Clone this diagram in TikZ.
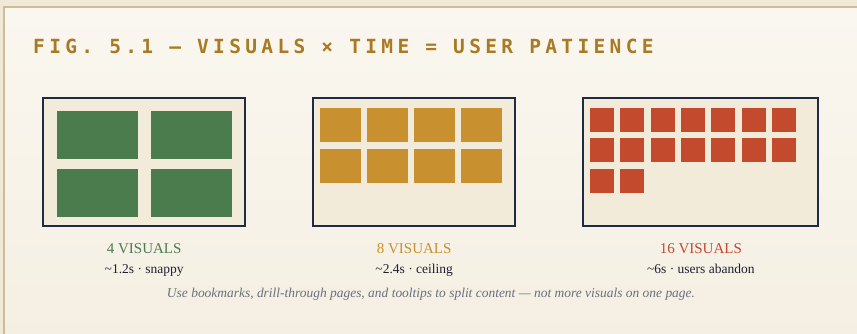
\documentclass[tikz,border=0pt]{standalone}
\usepackage{fontspec}
\setmainfont{Liberation Serif}
\newfontfamily\titlefont[LetterSpace=22.3]{DejaVu Sans Mono}
\definecolor{pagebg}{HTML}{F1E9D8}
\definecolor{cardtop}{HTML}{FAF7F0}
\definecolor{cardbot}{HTML}{F5EFE2}
\definecolor{rule}{HTML}{CBBD94}
\definecolor{ochre}{HTML}{A97A22}
\definecolor{navy}{HTML}{1F2A44}
\definecolor{panelfill}{HTML}{F3EBDA}
\definecolor{leaf}{HTML}{4A7C4E}
\definecolor{amber}{HTML}{C8902F}
\definecolor{rust}{HTML}{C44A2E}
\definecolor{ink}{HTML}{1E2030}
\definecolor{slate}{HTML}{6A6E7E}
\tikzset{
  panel/.style={draw=navy, line width=2pt, fill=panelfill, inner sep=0pt,
    minimum height=127.4pt},
  shade box/.style={fill=navy!60, opacity=0.35, inner sep=0pt, minimum height=127.4pt},
  count/.style={anchor=base, inner sep=0pt, font=\fontsize{15}{18}\selectfont},
  timing/.style={anchor=base, inner sep=0pt, text=ink, font=\fontsize{13.5}{16}\selectfont},
  note/.style={anchor=base, inner sep=0pt, text=slate, font=\fontsize{13.45}{16}\selectfont\itshape},
}
\begin{document}
\begin{tikzpicture}[x=1pt, y=-1pt]
  % page and card
  \fill[pagebg] (0,0) rectangle (857,334);
  \useasboundingbox (0,0) rectangle (857,334);
  \shade[top color=cardtop, bottom color=cardbot] (4,7) rectangle (870,345);
  \draw[rule, line width=2pt] (4,345) -- (4,7) -- (870,7);

  % heading
  \node[anchor=base west, inner sep=0pt, text=ochre,
        font=\titlefont\bfseries\fontsize{19.5}{22}\selectfont] (title) at (33,53.5)
    {FIG. 5.1 — VISUALS × TIME = USER PATIENCE};

  % panels with soft shadow
  \node[shade box, minimum width=201.7pt] at (145.2,163) {};
  \node[shade box, minimum width=201.7pt] at (415.2,163) {};
  \node[shade box, minimum width=235pt]   at (701.8,163) {};
  \node[panel, minimum width=201.7pt] (p1) at (144.2,162) {};
  \node[panel, minimum width=201.7pt] (p2) at (414.2,162) {};
  \node[panel, minimum width=235pt]   (p3) at (700.8,162) {};

  % four visuals
  \foreach \x in {57,151}
    \foreach \y in {111,169}
      \fill[leaf] (\x,\y) rectangle ++(81,48);

  % eight visuals
  \foreach \x in {320,367,414,461}
    \foreach \y in {108,149}
      \fill[amber] (\x,\y) rectangle ++(41,34);

  % sixteen visuals
  \foreach \i in {0,...,6}
    \foreach \y in {108,138.3}
      \fill[rust] (590+30.33*\i,\y) rectangle ++(24,24);
  \foreach \i in {0,1}
    \fill[rust] (590+30.33*\i,169) rectangle ++(24,24);

  % captions
  \node[count, text=leaf]  (c1) at (144.2,253) {4 VISUALS};
  \node[count, text=amber] (c2) at (414.2,253) {8 VISUALS};
  \node[count, text=rust]  (c3) at (700.8,253) {16 VISUALS};
  \node[timing] (t1) at (144.2,273) {\char"007E 1.2s · snappy};
  \node[timing] (t2) at (414.2,273) {\char"007E 2.4s · ceiling};
  \node[timing] (t3) at (700.8,273) {\char"007E 6s · users abandon};
  \node[note] (tip) at (431,297)
    {Use bookmarks, drill-through pages, and tooltips to split content — not more visuals on one page.};
\end{tikzpicture}
\end{document}
